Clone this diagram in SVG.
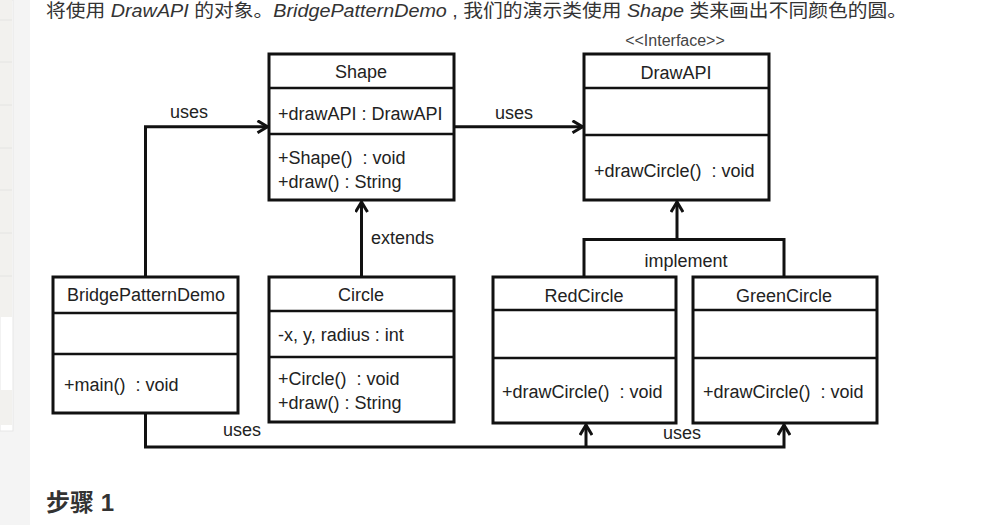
<svg xmlns="http://www.w3.org/2000/svg" width="989" height="525" viewBox="0 0 989 525">
<defs>
<style>
.page{fill:#333;font-family:"Liberation Sans","Noto Sans CJK SC",sans-serif;font-size:18.5px}
.it{font-style:italic}
.box{fill:#fff;stroke:#111;stroke-width:3}
.div{stroke:#111;stroke-width:2.6}
.t{fill:#222;font-family:"Liberation Sans","DejaVu Sans",sans-serif;font-size:18px}
.c{text-anchor:middle}
.conn{fill:none;stroke:#111;stroke-width:3}
</style>
<marker id="arr" viewBox="0 0 14 14" refX="12.5" refY="7" markerWidth="14" markerHeight="14" markerUnits="userSpaceOnUse" orient="auto">
<path d="M2,1 L12,7 L2,13" fill="none" stroke="#111" stroke-width="3"/>
</marker>
</defs>
<rect width="989" height="525" fill="#fff"/>
<g id="sidebar">
<rect x="0" y="0" width="30" height="525" fill="#f4f4f4"/>
<rect x="0" y="0" width="13" height="431" fill="#fff" stroke="#e6e6e6"/>
<rect x="0" y="0" width="12" height="317" fill="#f2f1ee"/>
<g stroke="#e4e4e2" stroke-width="1">
<line x1="0" y1="20" x2="12" y2="20"/><line x1="0" y1="62" x2="12" y2="62"/><line x1="0" y1="105" x2="12" y2="105"/><line x1="0" y1="148" x2="12" y2="148"/><line x1="0" y1="190" x2="12" y2="190"/><line x1="0" y1="233" x2="12" y2="233"/><line x1="0" y1="276" x2="12" y2="276"/>
</g>
<rect x="0" y="390" width="12" height="35" fill="#f2f1ee"/>
</g>
<text class="page" x="46" y="17" textLength="861" lengthAdjust="spacingAndGlyphs">将使用 <tspan class="it">DrawAPI</tspan> 的对象。<tspan class="it">BridgePatternDemo</tspan> , 我们的演示类使用 <tspan class="it">Shape</tspan> 类来画出不同颜色的圆。</text>
<text class="page" x="46" y="511" style="font-size:24px;font-weight:bold">步骤 1</text>

<g id="connectors">
<path class="conn" d="M145.5,277 V126.7 H268" marker-end="url(#arr)"/>
<path class="conn" d="M454,126.7 H583" marker-end="url(#arr)"/>
<path class="conn" d="M361.5,277 V201.5" marker-end="url(#arr)"/>
<path class="conn" d="M584,277 V239.5 H784 V277"/>
<path class="conn" d="M677,239.5 V201.5" marker-end="url(#arr)"/>
<path class="conn" d="M145.5,413 V447 H784 V424.5" marker-end="url(#arr)"/>
<path class="conn" d="M586,447 V424.5" marker-end="url(#arr)"/>
<text class="t" x="170" y="118">uses</text>
<text class="t" x="495" y="119">uses</text>
<text class="t" x="371" y="244">extends</text>
<text class="t c" x="686" y="267">implement</text>
<text class="t" x="223" y="436">uses</text>
<text class="t" x="663" y="439">uses</text>
</g>

<g id="Shape">
<rect class="box" x="269" y="54" width="185" height="146"/>
<line class="div" x1="269" y1="88" x2="454" y2="88"/>
<line class="div" x1="269" y1="134" x2="454" y2="134"/>
<text class="t c" x="361" y="78">Shape</text>
<text class="t" x="278" y="120">+drawAPI : DrawAPI</text>
<text class="t" x="278" y="164">+Shape()&#160; : void</text>
<text class="t" x="278" y="188">+draw() : String</text>
</g>

<g id="DrawAPI">
<text class="t c" x="675" y="46" style="font-size:16px;fill:#444">&lt;&lt;Interface&gt;&gt;</text>
<rect class="box" x="584" y="54" width="185" height="146"/>
<line class="div" x1="584" y1="88" x2="769" y2="88"/>
<line class="div" x1="584" y1="135" x2="769" y2="135"/>
<text class="t c" x="676" y="79">DrawAPI</text>
<text class="t" x="594" y="177">+drawCircle()&#160; : void</text>
</g>

<g id="BridgePatternDemo">
<rect class="box" x="53" y="277" width="185" height="136"/>
<line class="div" x1="53" y1="313" x2="238" y2="313"/>
<line class="div" x1="53" y1="354" x2="238" y2="354"/>
<text class="t c" x="146" y="301">BridgePatternDemo</text>
<text class="t" x="64" y="391">+main()&#160; : void</text>
</g>

<g id="Circle">
<rect class="box" x="269" y="277" width="185" height="145"/>
<line class="div" x1="269" y1="311" x2="454" y2="311"/>
<line class="div" x1="269" y1="357" x2="454" y2="357"/>
<text class="t c" x="361" y="301">Circle</text>
<text class="t" x="278" y="341">-x, y, radius : int</text>
<text class="t" x="278" y="385">+Circle()&#160; : void</text>
<text class="t" x="278" y="409">+draw() : String</text>
</g>

<g id="RedCircle">
<rect class="box" x="493" y="277" width="183" height="146"/>
<line class="div" x1="493" y1="310" x2="676" y2="310"/>
<line class="div" x1="493" y1="358" x2="676" y2="358"/>
<text class="t c" x="584" y="302">RedCircle</text>
<text class="t" x="502" y="398">+drawCircle()&#160; : void</text>
</g>

<g id="GreenCircle">
<rect class="box" x="693" y="277" width="184" height="146"/>
<line class="div" x1="693" y1="310" x2="877" y2="310"/>
<line class="div" x1="693" y1="358" x2="877" y2="358"/>
<text class="t c" x="784" y="302">GreenCircle</text>
<text class="t" x="703" y="398">+drawCircle()&#160; : void</text>
</g>
</svg>
